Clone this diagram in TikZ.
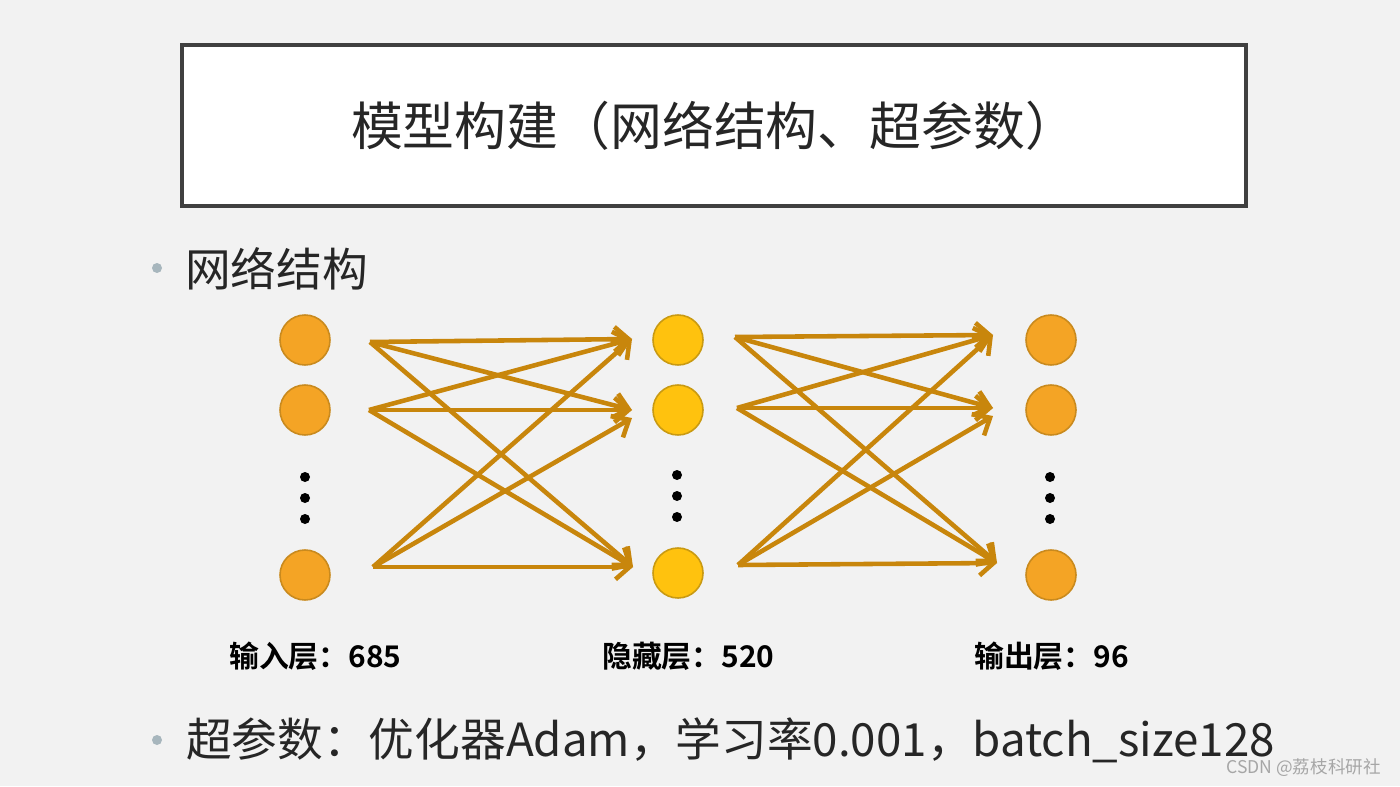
\documentclass[tikz,border=0pt]{standalone}
\usepackage{fontspec}
\usepackage{xcolor}
\usepackage{tikz}
\usetikzlibrary{arrows.meta,positioning}
\setmainfont{Noto Sans CJK SC}
\newfontfamily\cjkbold{Noto Sans CJK SC Bold}
\definecolor{slidebg}{HTML}{F2F2F2}
\definecolor{framegray}{HTML}{404040}
\definecolor{unitorange}{HTML}{F4A425}
\definecolor{unitedge}{HTML}{C98A1E}
\definecolor{hiddenyellow}{HTML}{FFC20E}
\definecolor{hiddenedge}{HTML}{C99A12}
\definecolor{linkbrown}{HTML}{C8860C}
\definecolor{bulletgray}{HTML}{A7B6BD}
\definecolor{inkgray}{HTML}{262626}
\tikzstyle{unit} = [circle, draw=unitedge, line width=0.9pt, fill=unitorange, minimum size=1cm, inner sep=0pt]
\tikzstyle{hunit} = [unit, draw=hiddenedge, fill=hiddenyellow]
\tikzstyle{vdot} = [circle, fill=black, minimum size=0.2cm, inner sep=0pt]
\tikzstyle{link} = [draw=linkbrown, line width=2.6pt, -{Straight Barb[length=8pt,width=14pt,line width=2.6pt]}]
\tikzstyle{layerlabel} = [anchor=west, text=black, font=\cjkbold\fontsize{17}{17}\selectfont]
\tikzstyle{bullet} = [circle, fill=bulletgray, minimum size=0.2cm, inner sep=0pt]

\begin{document}
\begin{tikzpicture}[node distance = 7.46cm, auto]
        % Slide background
        \fill[slidebg] (0,0) rectangle (28,15.72);
        \useasboundingbox (0,0) rectangle (28,15.72);

        % Title box
        \node [draw=framegray, line width=2pt, fill=white, minimum width=21.28cm, minimum height=3.22cm,
               text=inkgray, font=\fontsize{29.5}{29.5}\selectfont] (title) at (14.28,13.21) {模型构建（网络结构、超参数）};

        % Bullets
        \node [bullet] (b1) at (3.14,10.36) {};
        \node [anchor=west, text=inkgray, font=\fontsize{26}{26}\selectfont] (net) at (3.58,10.34) {网络结构};
        \node [bullet] (b2) at (3.14,0.92) {};
        \node [anchor=west, text=inkgray, font=\fontsize{26}{26}\selectfont] (hyper) at (3.60,0.92) {超参数：优化器Adam，学习率0.001，batch\_size128};

        % Place nodes
        \node [unit] (in1) at (6.10,8.92) {};
        \node [unit, below of=in1, node distance=1.4cm] (in2) {};
        \node [unit, below of=in2, node distance=3.3cm] (in3) {};
        \node [hunit, right of=in1] (hid1) {};
        \node [hunit, right of=in2] (hid2) {};
        \node [hunit, right of=in3, yshift=0.04cm] (hid3) {};
        \node [unit, right of=hid1] (out1) {};
        \node [unit, right of=hid2] (out2) {};
        \node [unit, right of=in3, xshift=7.46cm] (out3) {};

        % Ellipsis dots
        \node [vdot] (ind1) at (6.10,6.18) {};
        \node [vdot, below of=ind1, node distance=0.42cm] (ind2) {};
        \node [vdot, below of=ind2, node distance=0.42cm] (ind3) {};
        \node [vdot] (hidd1) at (13.54,6.22) {};
        \node [vdot, below of=hidd1, node distance=0.42cm] (hidd2) {};
        \node [vdot, below of=hidd2, node distance=0.42cm] (hidd3) {};
        \node [vdot] (outd1) at (21.00,6.18) {};
        \node [vdot, below of=outd1, node distance=0.42cm] (outd2) {};
        \node [vdot, below of=outd2, node distance=0.42cm] (outd3) {};

        % Arrow ends
        \coordinate (s1) at (7.40,8.88);
        \coordinate (s2) at (7.38,7.52);
        \coordinate (s3) at (7.46,4.38);
        \coordinate (t1) at (12.64,8.94);
        \coordinate (t2) at (12.64,7.52);
        \coordinate (t3) at (12.66,4.38);
        \coordinate (u1) at (14.70,8.98);
        \coordinate (u2) at (14.74,7.56);
        \coordinate (u3) at (14.76,4.42);
        \coordinate (v1) at (19.86,9.02);
        \coordinate (v2) at (19.86,7.56);
        \coordinate (v3) at (19.94,4.46);

        % Draw edges
        \path [link] (s1) -- (t1);
        \path [link] (s1) -- (t2);
        \path [link] (s1) -- (t3);
        \path [link] (s2) -- (t1);
        \path [link] (s2) -- (t2);
        \path [link] (s2) -- (t3);
        \path [link] (s3) -- (t1);
        \path [link] (s3) -- ([yshift=-0.16cm]t2);
        \path [link] (s3) -- (t3);

        \path [link] (u1) -- (v1);
        \path [link] (u1) -- (v2);
        \path [link] (u1) -- (v3);
        \path [link] (u2) -- (v1);
        \path [link] (u2) -- (v2);
        \path [link] (u2) -- (v3);
        \path [link] (u3) -- (v1);
        \path [link] (u3) -- ([yshift=-0.16cm]v2);
        \path [link] (u3) -- (v3);

        % Layer labels
        \node [layerlabel] (lin) at (4.46,2.60) {输入层：685};
        \node [layerlabel] (lhid) at (11.92,2.60) {隐藏层：520};
        \node [layerlabel] (lout) at (19.36,2.60) {输出层：96};

        % Watermark
        \node [anchor=east, text=black!35, font=\fontsize{10}{10}\selectfont] (mark) at (27.74,0.36) {CSDN @荔枝科研社};
    \end{tikzpicture}
\end{document}
